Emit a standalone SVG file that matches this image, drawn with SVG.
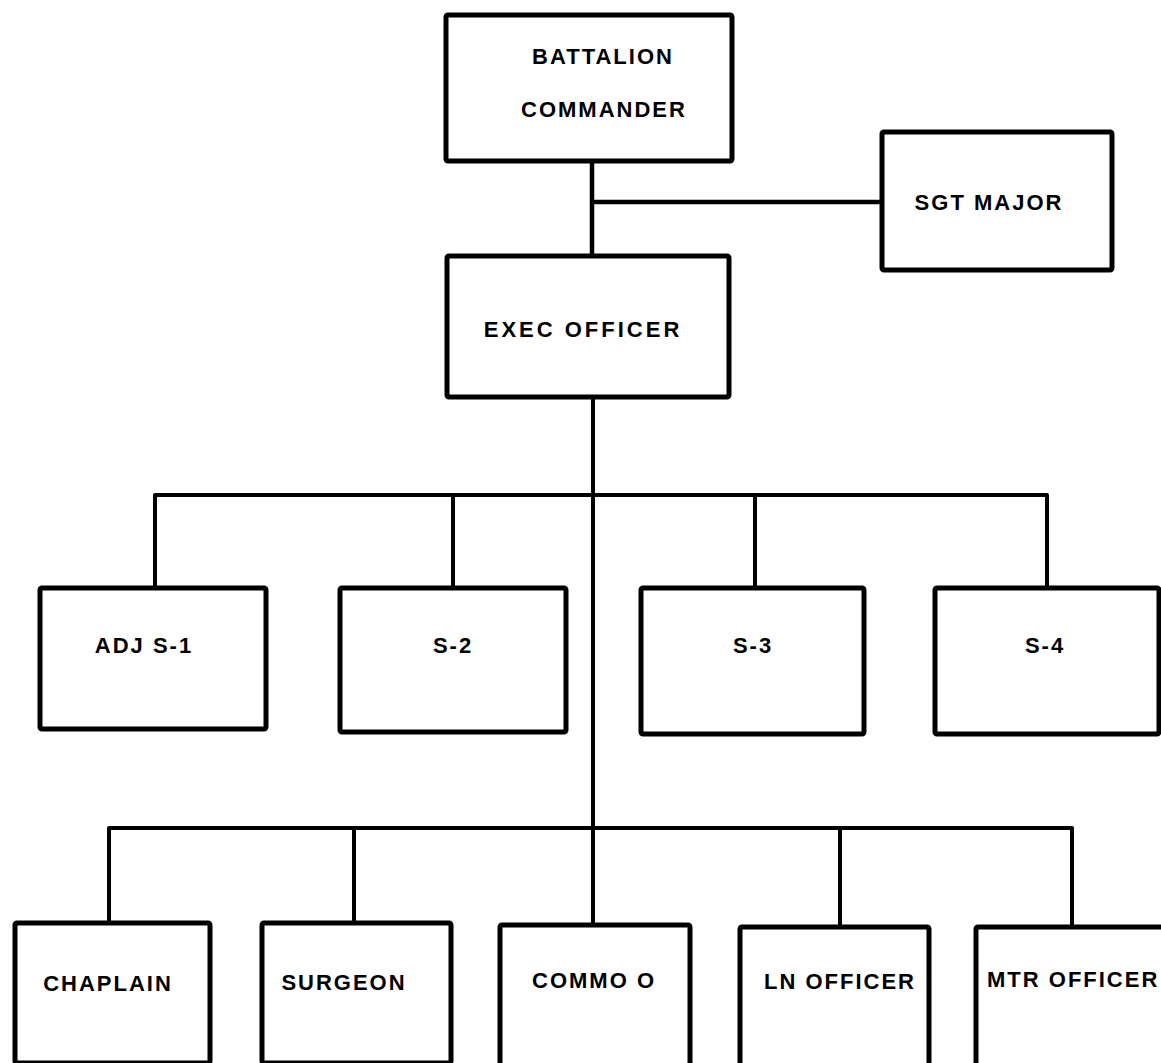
<svg xmlns="http://www.w3.org/2000/svg" width="1161" height="1063" viewBox="0 0 1161 1063">
<style>
.box{fill:#fff;stroke:#000;stroke-width:5;stroke-linejoin:round}
.ln{fill:none;stroke:#000;stroke-width:4;stroke-linejoin:round;stroke-linecap:square}
.t{font-family:"Liberation Sans",Arial,sans-serif;font-weight:bold;font-size:22px;letter-spacing:2px;fill:#000;text-anchor:middle}
</style>
<rect width="1161" height="1063" fill="#fff"/>
<g id="connectors">
<path class="ln" d="M592,161 V256 M592,202 H882" style="stroke-width:4.5"/>
<path class="ln" d="M593,397 V925"/>
<path class="ln" d="M155,588 V495 H1047 V588 M453,495 V588 M755,495 V588"/>
<path class="ln" d="M109,923 V828 H1072 V927 M354,828 V923 M840,828 V927"/>
</g>
<g id="battalion-commander"><rect class="box" x="446" y="15" width="286" height="146" rx="2"/><text class="t" x="603" y="64">BATTALION</text><text class="t" x="604" y="117">COMMANDER</text></g>
<g id="sgt-major"><rect class="box" x="882" y="132" width="230" height="138" rx="2"/><text class="t" x="989" y="210">SGT MAJOR</text></g>
<g id="exec-officer"><rect class="box" x="447" y="256" width="282" height="141" rx="2"/><text class="t" x="583" y="337" style="letter-spacing:3px">EXEC OFFICER</text></g>
<g id="adj-s1"><rect class="box" x="40" y="588" width="226" height="141" rx="2"/><text class="t" x="144" y="653">ADJ S-1</text></g>
<g id="s2"><rect class="box" x="340" y="588" width="226" height="144" rx="2"/><text class="t" x="453" y="653">S-2</text></g>
<g id="s3"><rect class="box" x="641" y="588" width="223" height="146" rx="2"/><text class="t" x="753" y="653">S-3</text></g>
<g id="s4"><rect class="box" x="935" y="588" width="224" height="146" rx="2"/><text class="t" x="1045" y="653">S-4</text></g>
<g id="chaplain"><rect class="box" x="15" y="923" width="195" height="140" rx="2"/><text class="t" x="108" y="991">CHAPLAIN</text></g>
<g id="surgeon"><rect class="box" x="262" y="923" width="189" height="140" rx="2"/><text class="t" x="344" y="990">SURGEON</text></g>
<g id="commo-o"><rect class="box" x="500" y="925" width="190" height="145" rx="2"/><text class="t" x="594" y="988">COMMO O</text></g>
<g id="ln-officer"><rect class="box" x="740" y="927" width="189" height="145" rx="2"/><text class="t" x="840" y="989">LN OFFICER</text></g>
<g id="mtr-officer"><rect class="box" x="976" y="927" width="200" height="145" rx="2"/><text class="t" x="987" y="987" style="text-anchor:start">MTR OFFICER</text></g>
</svg>
